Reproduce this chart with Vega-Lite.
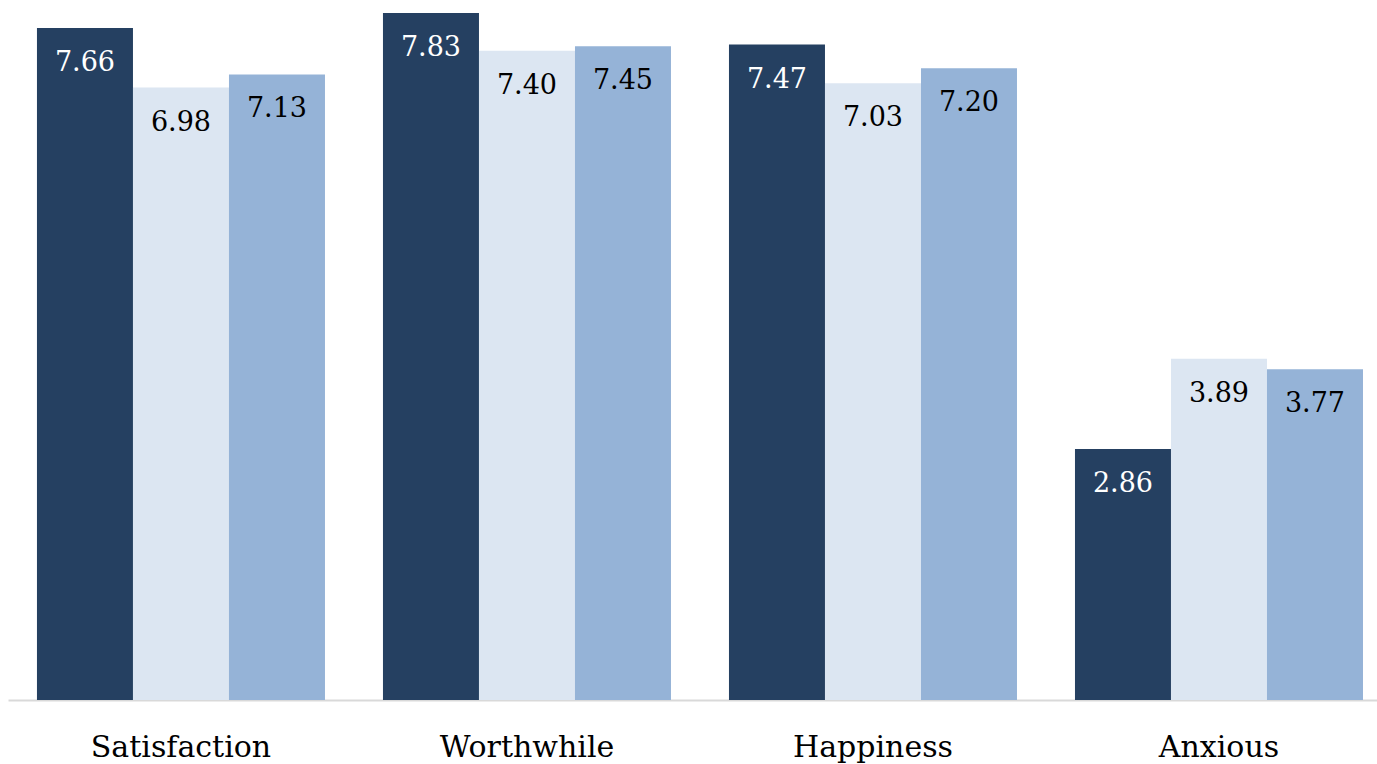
{
  "$schema": "https://vega.github.io/schema/vega-lite/v6.json",
  "autosize": {"type": "none"},
  "padding": {"left": 8, "top": 0, "right": 0, "bottom": 64},
  "width": 1369,
  "height": 700,
  "background": "white",
  "config": {"view": {"stroke": null}, "font": "DejaVu Serif"},
  "data": {"values": [
    {"measure": "Satisfaction", "series": "A", "value": 7.66},
    {"measure": "Satisfaction", "series": "B", "value": 6.98},
    {"measure": "Satisfaction", "series": "C", "value": 7.13},
    {"measure": "Worthwhile", "series": "A", "value": 7.83},
    {"measure": "Worthwhile", "series": "B", "value": 7.40},
    {"measure": "Worthwhile", "series": "C", "value": 7.45},
    {"measure": "Happiness", "series": "A", "value": 7.47},
    {"measure": "Happiness", "series": "B", "value": 7.03},
    {"measure": "Happiness", "series": "C", "value": 7.20},
    {"measure": "Anxious", "series": "A", "value": 2.86},
    {"measure": "Anxious", "series": "B", "value": 3.89},
    {"measure": "Anxious", "series": "C", "value": 3.77}
  ]},
  "encoding": {
    "x": {
      "field": "measure", "type": "nominal",
      "sort": ["Satisfaction", "Worthwhile", "Happiness", "Anxious"],
      "scale": {"paddingInner": 0.1676, "paddingOuter": 0.0621, "align": 0.674},
      "axis": {
        "title": null, "labelAngle": 0, "ticks": false, "tickSize": 0,
        "labelFont": "DejaVu Serif", "labelFontSize": 30, "labelColor": "#000000",
        "labelBaseline": "alphabetic", "labelPadding": 56, "labelLimit": 500,
        "domainColor": "#D9D9D9", "domainWidth": 2, "grid": false
      }
    },
    "xOffset": {"field": "series", "type": "nominal", "scale": {"paddingInner": 0, "paddingOuter": 0}},
    "y": {
      "field": "value", "type": "quantitative",
      "scale": {"domain": [0, 7.978], "nice": false, "zero": true},
      "axis": null
    }
  },
  "layer": [
    {
      "mark": {"type": "bar"},
      "encoding": {
        "color": {
          "field": "series", "type": "nominal",
          "scale": {"domain": ["A", "B", "C"], "range": ["#254061", "#DCE6F2", "#95B3D7"]},
          "legend": null
        }
      }
    },
    {
      "mark": {"type": "text", "baseline": "alphabetic", "align": "center", "dy": 43, "fontSize": 27, "font": "DejaVu Serif"},
      "encoding": {
        "text": {"field": "value", "type": "quantitative", "format": ".2f"},
        "color": {
          "field": "series", "type": "nominal",
          "scale": {"domain": ["A", "B", "C"], "range": ["#FFFFFF", "#000000", "#000000"]},
          "legend": null
        }
      }
    }
  ],
  "resolve": {"scale": {"color": "independent"}}
}
